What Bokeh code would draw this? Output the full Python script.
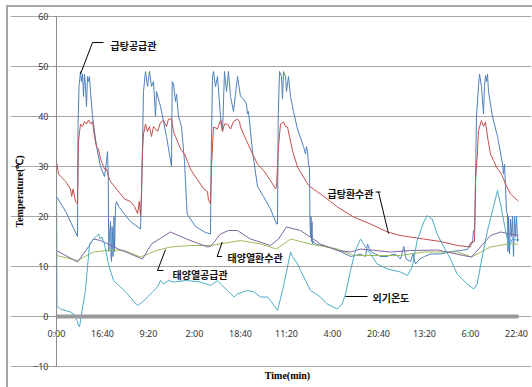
from bokeh.plotting import figure
from bokeh.models import Range1d, FixedTicker, Label, Arrow
from bokeh.embed import file_html
from bokeh.resources import INLINE

# ---- axis data ----
x_tick_minutes = [0, 1000, 2000, 3000, 4000, 5000, 6000, 7000, 8000, 9000, 10000]
x_tick_labels = ["0:00", "16:40", "9:20", "2:00", "18:40", "11:20",
                 "4:00", "20:40", "13:20", "6:00", "22:40"]
y_ticks = [-10, 0, 10, 20, 30, 40, 50, 60]
t_first, t_last = 0, 10043

# ---- 급탕공급관 (hot water supply) ----
hot_supply_t = [0, 200, 457, 467, 490, 522, 543, 565, 587, 609,
                630, 652, 674, 696, 717, 739, 783, 870, 957, 1043,
                1087, 1109, 1125, 1135, 1152, 1174, 1185, 1196, 1207, 1217,
                1228, 1239, 1250, 1261, 1283, 1304, 1348, 1478, 1609, 1826,
                1848, 1891, 1935, 1978, 2022, 2065, 2109, 2152, 2174, 2261,
                2391, 2500, 2515, 2543, 2587, 2609, 2652, 2717, 2783, 2826,
                2840, 2913, 3022, 3239, 3348, 3360, 3391, 3413, 3457, 3500,
                3565, 3609, 3652, 3696, 3739, 3783, 3848, 3935, 4000, 4065,
                4130, 4152, 4174, 4261, 4370, 4500, 4652, 4783, 4804, 4820,
                4848, 4891, 4913, 4935, 4978, 5000, 5043, 5087, 5152, 5239,
                5370, 5413, 5435, 5457, 5478, 5500, 5510, 5522, 5533, 5543,
                5554, 5565, 5587, 5630, 5848, 6065, 6283, 6391, 6500, 6600,
                6717, 6760, 6826, 6935, 7043, 7196, 7261, 7370, 7478, 7550,
                7600, 7696, 7750, 7804, 7900, 8000, 8130, 8348, 8565, 8783,
                8935, 9000, 9043, 9065, 9087, 9100, 9109, 9130, 9174, 9196,
                9239, 9283, 9304, 9326, 9348, 9370, 9391, 9478, 9587, 9696,
                9717, 9739, 9761, 9783, 9804, 9815, 9826, 9848, 9870, 9891,
                9913, 9935, 9957, 9978, 10000, 10022, 10043]
hot_supply_v = [24, 21, 16, 38, 46, 49, 47, 48.5, 44, 48.5,
                46, 42, 48, 47, 48, 45, 40, 34, 30, 28,
                31, 33, 28, 13, 16, 19, 12, 11, 18, 17,
                12, 14, 20, 13, 22, 23, 22, 20.5, 19, 17.5,
                24, 45, 49, 46, 49, 46, 47, 40, 45, 42,
                36, 30, 47, 46.5, 43, 44.5, 40, 38, 31, 23,
                20.5, 19.5, 18, 16.8, 16.5, 30, 48, 49, 46, 48,
                40, 37, 49, 45, 49, 44, 41, 48, 44, 43.5,
                42.5, 40.5, 41, 33, 26, 24, 21.5, 18.5, 18.5, 40,
                49, 48, 43.5, 49, 48, 45, 48, 44, 41, 37.5,
                34, 32.5, 34, 33, 30.5, 29.5, 19, 16, 20, 15,
                19, 14.5, 15, 14.5, 14, 13.5, 12.5, 12, 12.2, 12.5,
                12, 14.5, 13, 12.5, 12, 12, 12.3, 12.5, 11.5, 14,
                11.5, 11, 12.5, 10.5, 11.5, 12, 12.5, 12.5, 13, 13.2,
                13.4, 14.7, 14.7, 17.2, 17.2, 21, 27, 40, 46, 48.5,
                46, 40.5, 46, 48.2, 47, 48.5, 45, 40, 36, 30.5,
                28.5, 30.5, 26, 21, 20.5, 13, 20, 12.5, 19.5, 16,
                20, 12, 20, 16, 20, 15, 15.5]

# ---- 급탕환수관 (hot water return) ----
hot_return_t = [0, 43, 200, 304, 330, 360, 413, 457, 478, 522,
                565, 609, 652, 696, 740, 783, 826, 870, 913, 957,
                1000, 1043, 1087, 1130, 1174, 1261, 1391, 1478, 1609, 1696,
                1761, 1800, 1826, 1848, 1870, 1891, 1935, 1978, 2022, 2065,
                2109, 2152, 2196, 2261, 2326, 2391, 2435, 2500, 2543, 2587,
                2652, 2717, 2783, 2848, 2913, 2978, 3130, 3200, 3283, 3300,
                3348, 3370, 3413, 3500, 3565, 3609, 3652, 3717, 3783, 3848,
                3935, 3978, 4000, 4065, 4130, 4261, 4370, 4500, 4652, 4761,
                4783, 4826, 4870, 4935, 4978, 5022, 5065, 5130, 5239, 5370,
                5478, 5522, 5739, 5957, 6109, 6457, 6826, 7196, 7478, 7978,
                8348, 8717, 9000, 9022, 9087, 9109, 9152, 9174, 9239, 9283,
                9326, 9348, 9370, 9435, 9500, 9565, 9674, 9761, 9870, 10022,
                10043]
hot_return_v = [31, 28.5, 27, 25.5, 24, 25.5, 23, 22.5, 35, 38.5,
                38, 39, 38.5, 39.3, 38.5, 39, 36, 34, 33.5, 31.5,
                30.5, 29.5, 29.5, 28, 27, 26, 24.5, 23.5, 23, 22,
                20.6, 23, 20.2, 25, 33, 36.5, 38.5, 37, 38, 36,
                38, 37.5, 37, 38.8, 39.2, 38, 39.5, 39.5, 37, 36,
                34.5, 33.2, 32.5, 31, 29.5, 28.5, 26.5, 25.5, 25, 23.5,
                22.5, 30, 37.9, 37.5, 39.2, 37, 38.5, 38.5, 37.5, 39,
                39.5, 39, 37.9, 36.5, 35.2, 32.5, 30.5, 29.2, 27.2, 25.5,
                26, 34, 38.5, 38.9, 38, 37.9, 36, 33.2, 29.9, 27.9,
                26.2, 25.9, 24.5, 23, 21.9, 19.9, 18.5, 16.9, 16.2, 15.5,
                15, 14.2, 13.9, 14.9, 15, 27.2, 33, 37.2, 39.2, 38,
                38.9, 37.5, 35.9, 32.5, 31.2, 29.9, 28.5, 26.5, 24.5, 23.2,
                23]

# ---- 태양열공급관 (solar supply) ----
solar_supply_t = [0, 457, 804, 1174, 1478, 1826, 2174, 2478, 2913, 3348,
                  4000, 4435, 4783, 5087, 5522, 6109, 6457, 7478, 7978, 8717,
                  9022, 9435, 9804, 10043]
solar_supply_v = [12.2, 11.2, 12.9, 13.3, 13.2, 11.9, 13.2, 13.9, 14.2, 14.2,
                  15.2, 14.5, 13.5, 15.5, 14.5, 13.5, 12.2, 12.2, 12.9, 12.9,
                  11.9, 13.9, 14.5, 14.5]

# ---- 태양열환수관 (solar return) ----
solar_return_t = [0, 457, 700, 804, 957, 1348, 1870, 2065, 2478, 2826,
                  3283, 3348, 3565, 3739, 3935, 4217, 4652, 4826, 5000, 5304,
                  5739, 6109, 6391, 6609, 7261, 7696, 8283, 8848, 9022, 9435,
                  9652, 10043]
solar_return_v = [13.2, 10.9, 14, 15.5, 15.2, 13.5, 11.5, 14.5, 16.9, 15.5,
                  13.9, 14, 16.5, 17.2, 17.2, 15.5, 14.2, 15.5, 17.9, 17.2,
                  14.5, 13.2, 12.9, 13.5, 12.9, 13.2, 13.3, 12.2, 11.9, 16.2,
                  16.9, 16.2]

# ---- 외기온도 (outdoor temperature) ----
outdoor_t = [0, 10, 87, 304, 413, 467, 500, 543, 630, 680,
             720, 804, 913, 950, 990, 1043, 1130, 1239, 1391, 1543,
             1761, 1870, 1978, 2087, 2196, 2261, 2326, 2435, 2543, 2826,
             3130, 3348, 3500, 3565, 3717, 3862, 3935, 4152, 4297, 4435,
             4587, 4652, 4804, 4913, 5022, 5087, 5130, 5239, 5304, 5413,
             5522, 5739, 5884, 6102, 6210, 6283, 6391, 6500, 6609, 6674,
             6826, 6971, 7196, 7478, 7630, 7732, 7841, 7985, 8058, 8167,
             8275, 8420, 8565, 8710, 8928, 9072, 9145, 9254, 9370, 9515,
             9587, 9652, 9761, 9833, 9906, 10043]
outdoor_v = [30, 2, 1.5, 0.9, 0.2, -1.5, -2.1, 0.5, 5.2, 10.5,
             14.5, 15.5, 16.5, 15.5, 15.9, 14.5, 10.5, 7.2, 5.9, 4.5,
             2.2, 2.9, 3.9, 4.9, 5.9, 7.2, 6.5, 7.2, 6.9, 7.2,
             6.9, 6.2, 7.2, 6.5, 5.2, 3.9, 4.5, 5.2, 4.9, 3.9,
             3.9, 3.2, 1.2, 5.2, 9.9, 12.9, 12, 10.5, 9.2, 7.2,
             5.2, 3.9, 2.5, 1.5, 2.5, 4.5, 9.2, 13.2, 15.5, 14.5,
             12.5, 10.5, 9.5, 8.9, 8.2, 9.9, 15.2, 18.9, 20.2, 19.5,
             16.5, 13.9, 11.5, 8.5, 6.5, 5.5, 6.5, 11.9, 17.2, 22.5,
             25.2, 22.5, 17.2, 13.9, 15.5, 15.2]

series = [
    (hot_supply_t, hot_supply_v, "#4F81BD"),
    (hot_return_t, hot_return_v, "#C0504D"),
    (solar_supply_t, solar_supply_v, "#9BBB59"),
    (solar_return_t, solar_return_v, "#8064A2"),
    (outdoor_t, outdoor_v, "#4BACC6"),
]

# frame widened on all sides so that axis labels drawn inside it are not clipped
p = figure(width=524, height=380, x_range=Range1d(-1000, 10326), y_range=Range1d(-13, 61.4),
           output_backend="svg", toolbar_location=None,
           min_border_left=2, min_border_right=1, min_border_top=2, min_border_bottom=6)
p.outline_line_color = None
p.background_fill_color = "white"
p.border_fill_color = "white"
p.styles = {"margin-left": "8px", "margin-top": "7px", "outline": "2px solid #a6a6a6"}

# y axis drawn at t = 0
ya = p.yaxis[0]
ya.fixed_location = 0
ya.bounds = (y_ticks[0], y_ticks[-1])
ya.ticker = FixedTicker(ticks=y_ticks)
ya.major_label_text_font = "Noto Sans"
ya.major_label_text_font_size = "9px"
ya.major_label_text_color = "#333333"
ya.axis_line_color = "#8c8c8c"
ya.major_tick_line_color = "#8c8c8c"
ya.major_tick_out = 3
ya.major_tick_in = 0
ya.minor_tick_line_color = None
ya.major_label_standoff = 5
ya.axis_label = "Temperature(\u2103)"
ya.axis_label_text_font = "Liberation Serif"
ya.axis_label_text_font_style = "bold"
ya.axis_label_text_font_size = "10px"
ya.axis_label_text_color = "#000000"
ya.axis_label_standoff = 5

# x axis drawn at y = 0
xa = p.xaxis[0]
xa.fixed_location = 0
xa.bounds = (t_first, t_last)
xa.ticker = FixedTicker(ticks=x_tick_minutes)
xa.major_label_overrides = {t: s for t, s in zip(x_tick_minutes, x_tick_labels)}
xa.major_label_text_font = "Noto Sans"
xa.major_label_text_font_size = "9px"
xa.major_label_text_color = "#333333"
xa.major_tick_line_color = None
xa.minor_tick_line_color = None
xa.axis_line_color = "#9a9a9a"
xa.axis_line_width = 4
xa.major_label_standoff = 4

p.xgrid.visible = False
p.ygrid.bounds = (t_first, t_last)
p.ygrid.grid_line_color = "#a6a6a6"
p.ygrid.grid_line_width = 1

for t, v, c in series:
    p.line(t, v, line_color=c, line_width=1)

# x axis title under the plot area
p.add_layout(Label(x=(t_first + t_last) / 2, y=-11.8, text="Time(min)",
                   text_font="Liberation Serif", text_font_style="bold",
                   text_font_size="10px", text_align="center", text_baseline="middle",
                   text_color="#000000"))

# callouts
callouts = [
    ("급탕공급관", 1174, 54.2, [(1022, 54.8, 783, 54.8), (783, 54.8, 522, 48.5)]),
    ("급탕환수관", 5891, 24.6, [(6935, 24.9, 7043, 24.9), (7000, 24.9, 7217, 16.6)]),
    ("태양열공급관", 2522, 8.5, [(2196, 9.2, 2326, 9.2), (2196, 9.2, 2370, 13.4)]),
    ("태양열환수관", 3717, 11.8, [(3493, 12.0, 3600, 12.0), (3493, 12.0, 3602, 14.9)]),
    ("외기온도", 6870, 3.9, [(6283, 4.0, 6761, 4.0)]),
]
for text, lx, ly, segs in callouts:
    p.add_layout(Label(x=lx, y=ly, text=text, text_font="Noto Sans CJK KR",
                       text_font_style="bold", text_font_size="10px",
                       text_align="left", text_baseline="middle", text_color="#111111"))
    for x0, y0, x1, y1 in segs:
        p.add_layout(Arrow(end=None, x_start=x0, y_start=y0, x_end=x1, y_end=y1,
                           line_color="#000000", line_width=1))

open("out.html", "w").write(file_html(p, INLINE))
